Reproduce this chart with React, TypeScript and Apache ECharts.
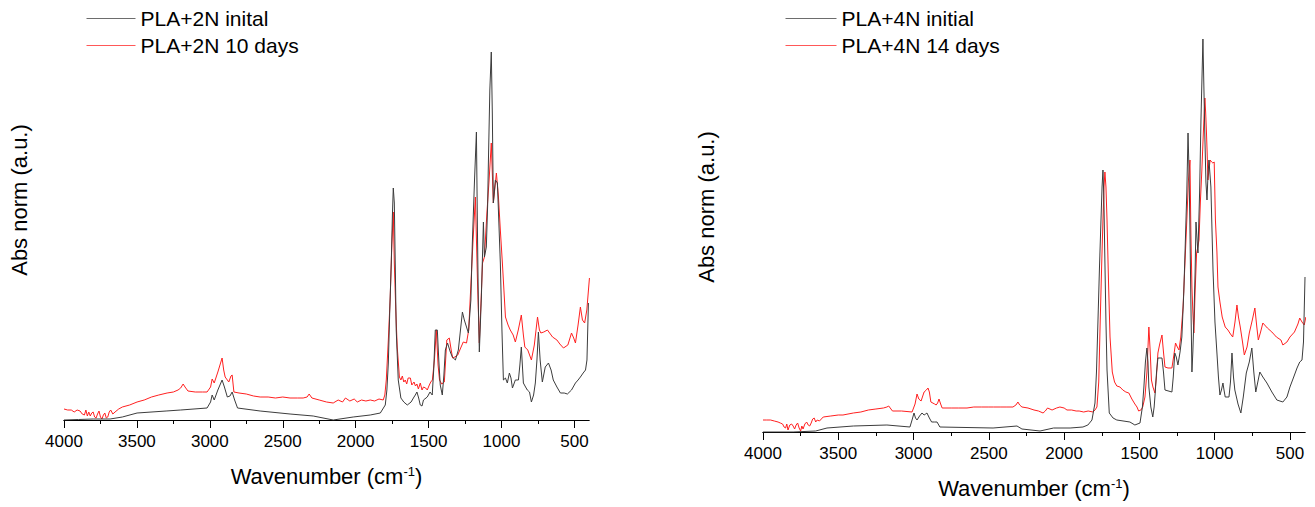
import React, { useEffect, useRef } from "react";
import * as echarts from "echarts";

// ---- Data (y in arbitrary normalised units) ----
const NAME_2N_INIT = "PLA+2N inital";
const NAME_2N_10D = "PLA+2N 10 days";
const NAME_4N_INIT = "PLA+4N initial";
const NAME_4N_14D = "PLA+4N 14 days";

const WN_2N_INIT = [4000,3900,3800,3684,3600,3499,3300,3200,3019,2995,2984,2970,2945,2916,2900,2880,2862,2847,2830,2810,2655,2450,2291,2154,2017,1900,1831,1797,1786,1776,1766,1756,1748,1742,1735,1728,1722,1708,1690,1670,1646,1620,1600,1591,1580,1568,1557,1545,1535,1509,1490,1475,1465,1454,1440,1430,1420,1406,1395,1385,1370,1351,1337,1316,1296,1268,1255,1227,1210,1200,1185,1172,1165,1158,1152,1138,1124,1117,1104,1095,1090,1080,1070,1063,1056,1042,1028,1008,997,987,973,960,946,935,925,905,884,874,864,850,835,823,808,795,780,768,757,747,735,720,700,678,660,645,620,596,570,548,520,493,475,459,440,424,414,404];
const ABS_2N_INIT = [0,0.5,1,1,3,7,9,10,12,18,25,20,30,40,33,23,24,28,20,12,9,6,4,0,3,5,7,15,30,57,110,157,205,232,217,150,90,40,22,18,15,18,23,25,28,22,15,14,20,23,28,25,50,90,90,60,35,25,45,70,77,68,63,60,70,108,100,87,120,177,240,288,190,110,68,123,198,163,173,215,257,330,368,307,217,240,237,157,90,40,42,37,47,42,32,40,40,55,73,37,33,30,28,18,25,37,60,88,60,38,53,57,50,40,33,27,27,26,30,37,40,43,47,50,60,117];

const WN_2N_10D = [4000,3975,3950,3930,3910,3890,3875,3860,3850,3840,3830,3820,3810,3800,3790,3780,3770,3760,3750,3740,3730,3720,3710,3700,3690,3680,3665,3650,3625,3600,3550,3499,3450,3400,3350,3293,3250,3218,3200,3183,3170,3150,3100,3050,3019,2995,2984,2970,2945,2916,2905,2895,2870,2855,2847,2835,2800,2750,2700,2655,2600,2550,2500,2450,2400,2360,2333,2319,2300,2250,2200,2154,2120,2090,2070,2040,2010,1989,1960,1930,1900,1870,1840,1811,1800,1790,1776,1763,1752,1742,1735,1725,1715,1700,1690,1680,1670,1660,1650,1640,1625,1615,1600,1590,1580,1570,1557,1545,1535,1520,1509,1495,1485,1474,1460,1447,1435,1425,1410,1392,1375,1358,1345,1335,1320,1300,1280,1262,1240,1225,1214,1195,1179,1165,1152,1140,1130,1117,1100,1085,1070,1056,1035,1021,1008,994,973,955,940,920,905,885,864,850,840,820,795,775,753,740,730,710,685,650,620,600,575,545,520,505,493,475,459,445,430,415,397];
const ABS_2N_10D = [11,10,10,8,10,9,6,5,10,4,8,4,7,8,3,2,6,9,3,1,5,7,2,3,8,10,6,8,11,13,15,18,20,23,25,27,28,30,32,36,33,29,28,28,28,33,41,37,48,62,50,43,38,44,45,28,27,26,24,23,23,22,23,22,22,22,23,26,22,20,18,17,20,18,22,19,21,18,20,19,20,19,21,20,25,40,80,123,175,208,157,110,73,43,40,44,38,40,36,42,42,35,38,34,36,31,37,30,33,32,30,35,38,40,60,90,55,40,36,38,80,82,70,62,63,65,72,78,77,90,123,180,223,140,77,120,157,163,207,240,277,217,247,223,190,157,103,95,90,85,78,90,105,85,73,70,60,75,103,90,87,88,90,83,80,76,72,75,87,82,77,95,113,100,97,110,142];

const WN_4N_INIT = [4000,3800,3650,3575,3400,3177,3024,3010,2997,2987,2977,2960,2944,2930,2920,2911,2895,2880,2860,2844,2825,2472,2313,2280,2160,2070,1960,1875,1842,1815,1795,1785,1775,1765,1755,1748,1742,1736,1730,1722,1715,1700,1675,1650,1563,1530,1496,1480,1470,1460,1450,1443,1437,1424,1411,1402,1395,1386,1377,1350,1340,1330,1284,1275,1265,1255,1244,1230,1218,1205,1197,1185,1177,1170,1165,1158,1151,1145,1138,1130,1124,1118,1111,1100,1091,1078,1065,1058,1051,1045,1038,1025,1011,998,985,975,965,955,945,938,930,905,895,885,875,866,845,826,810,790,770,753,740,727,700,680,653,620,587,547,520,500,475,453,435,420,410,400];
const ABS_4N_INIT = [0,0,1,4,6,7,5,12,19,14,12,16,19,17,18,19,14,10,10,10,5,4,6,3,1,4,4,5,7,12,29,60,112,165,212,245,262,235,179,110,62,19,14,12,10,7,9,25,45,70,84,70,45,25,15,25,39,60,74,74,60,42,40,55,79,75,67,80,95,140,179,240,299,260,212,130,60,80,112,160,210,195,179,240,312,393,295,250,232,255,272,245,162,110,79,55,37,42,49,42,35,35,50,79,55,42,28,19,35,59,70,84,60,40,60,55,49,40,32,30,35,45,55,64,70,72,90,155];

const WN_4N_14D = [4000,3975,3950,3925,3900,3885,3870,3860,3850,3842,3834,3822,3810,3800,3790,3780,3770,3760,3750,3742,3734,3722,3710,3700,3690,3680,3670,3660,3650,3640,3625,3600,3550,3500,3469,3400,3350,3300,3250,3200,3177,3165,3140,3080,3010,2990,2977,2965,2950,2930,2915,2904,2895,2885,2860,2850,2840,2831,2820,2810,2750,2700,2645,2600,2550,2500,2470,2420,2380,2340,2320,2307,2295,2280,2240,2200,2170,2140,2125,2110,2080,2050,2028,2000,1981,1950,1920,1900,1870,1840,1808,1795,1782,1770,1760,1750,1742,1735,1729,1722,1715,1705,1695,1680,1665,1650,1629,1610,1590,1570,1550,1530,1516,1505,1490,1478,1463,1450,1437,1428,1420,1410,1397,1387,1377,1365,1350,1340,1330,1310,1284,1270,1260,1248,1237,1225,1210,1197,1184,1175,1164,1158,1151,1145,1138,1130,1120,1112,1104,1095,1085,1075,1065,1060,1055,1050,1045,1038,1030,1020,1012,1003,995,985,978,965,950,930,912,895,880,865,852,842,830,815,803,785,770,750,733,720,710,695,680,650,620,590,560,547,520,500,470,447,435,420,405,394];
const ABS_4N_14D = [12,12,12,11,10,9,8,5,4,8,2,7,8,6,3,7,9,4,1,6,3,8,10,7,6,9,13,14,10,12,11,15,16,17,17,19,20,22,23,24,25,26,21,21,20,28,38,33,31,40,42,44,40,30,28,27,29,33,28,24,24,24,24,25,25,25,25,25,25,25,27,30,27,25,24,22,21,19,21,24,22,24,25,24,22,22,21,21,20,21,20,22,25,50,112,170,212,245,260,245,212,150,95,60,50,46,45,42,40,39,33,28,25,21,22,25,35,60,105,80,52,45,39,55,79,88,97,80,65,64,64,78,89,85,82,95,125,170,215,250,272,200,145,120,99,140,179,185,192,230,262,300,334,320,302,280,252,262,272,270,269,270,212,180,145,130,115,105,102,98,95,110,127,115,105,90,77,85,99,112,124,105,92,100,109,104,100,95,92,87,90,95,100,108,114,110,107,115,125];

const MAJOR_TICKS = [500, 1000, 1500, 2000, 2500, 3000, 3500, 4000];
const MINOR_TICKS = [750, 1250, 1750, 2250, 2750, 3250, 3750];

const zip = (xs: number[], ys: number[]) => xs.map((x, i) => [x, ys[i]]);

const FONT = "'Liberation Sans', Arial, sans-serif";
const BLACK = "#3c3c3c";
const RED = "#ff2020";

function makeXAxes(gridIndex: number) {
  const base = {
    gridIndex,
    type: "value" as const,
    min: 400,
    max: 4000,
    inverse: true,
    position: "bottom" as const,
    splitLine: { show: false },
    axisLine: { show: true, onZero: false, lineStyle: { color: "#000", width: 1 } },
  };
  return [
    {
      ...base,
      name: "Wavenumber (cm{sup|-1})",
      nameLocation: "middle",
      nameGap: 45,
      nameTextStyle: {
        fontSize: 22,
        fontFamily: FONT,
        color: "#000",
        rich: { sup: { fontSize: 13, verticalAlign: "top", padding: [0, 0, 10, 0], fontFamily: FONT, color: "#000" } },
      },
      axisTick: { show: true, customValues: MAJOR_TICKS, length: 8, lineStyle: { color: "#000" } },
      axisLabel: {
        show: true,
        customValues: MAJOR_TICKS,
        margin: 13,
        fontSize: 17,
        fontFamily: FONT,
        color: "#000",
        formatter: (v: number) => String(v),
      },
    },
    {
      ...base,
      axisTick: { show: true, customValues: MINOR_TICKS, length: 4, lineStyle: { color: "#000" } },
      axisLabel: { show: false },
    },
  ];
}

const legendBase = {
  orient: "vertical",
  top: 8,
  itemHeight: 14,
  itemGap: 6,
  padding: 0,
  itemStyle: { opacity: 0 },
  lineStyle: { width: 1, opacity: 0.75 },
  textStyle: { fontSize: 21, fontFamily: FONT, color: "#000" },
};

export default function App() {
  const ref = useRef<HTMLDivElement>(null);
  useEffect(() => {
    if (!ref.current) return;
    const chart = echarts.init(ref.current, undefined, { renderer: "svg" });
    const lineSeries = (name: string, data: number[][], color: string, axis: number) => ({
      name,
      type: "line",
      xAxisIndex: axis * 2,
      yAxisIndex: axis,
      data,
      symbol: "none",
      showSymbol: false,
      lineStyle: { color, width: 1 },
      itemStyle: { color },
      emphasis: { disabled: true },
    });
    chart.setOption({
      animation: false,
      backgroundColor: "#fff",
      grid: [
        { left: 64, top: 40, width: 525, height: 380 },
        { left: 763, top: 32, width: 542, height: 400 },
      ],
      xAxis: [...makeXAxes(0), ...makeXAxes(1)],
      yAxis: [
        { gridIndex: 0, type: "value", min: 0, max: 380, show: false },
        { gridIndex: 1, type: "value", min: 0, max: 400, show: false },
      ],
      legend: [
        { ...legendBase, data: [NAME_2N_INIT, NAME_2N_10D], left: 86, itemWidth: 49 },
        { ...legendBase, data: [NAME_4N_INIT, NAME_4N_14D], left: 785, itemWidth: 51 },
      ],
      graphic: [
        {
          type: "text",
          x: 19,
          y: 200,
          rotation: Math.PI / 2,
          style: { text: "Abs norm (a.u.)", fontSize: 22, fontFamily: FONT, fill: "#000", align: "center", verticalAlign: "middle" },
        },
        {
          type: "text",
          x: 706,
          y: 207,
          rotation: Math.PI / 2,
          style: { text: "Abs norm (a.u.)", fontSize: 22, fontFamily: FONT, fill: "#000", align: "center", verticalAlign: "middle" },
        },
      ],
      series: [
        lineSeries(NAME_2N_10D, zip(WN_2N_10D, ABS_2N_10D), RED, 0),
        lineSeries(NAME_2N_INIT, zip(WN_2N_INIT, ABS_2N_INIT), BLACK, 0),
        lineSeries(NAME_4N_14D, zip(WN_4N_14D, ABS_4N_14D), RED, 1),
        lineSeries(NAME_4N_INIT, zip(WN_4N_INIT, ABS_4N_INIT), BLACK, 1),
      ],
    });
    return () => chart.dispose();
  }, []);
  return <div ref={ref} style={{ position: "fixed", left: 0, top: 0, width: 1315, height: 507 }} />;
}
